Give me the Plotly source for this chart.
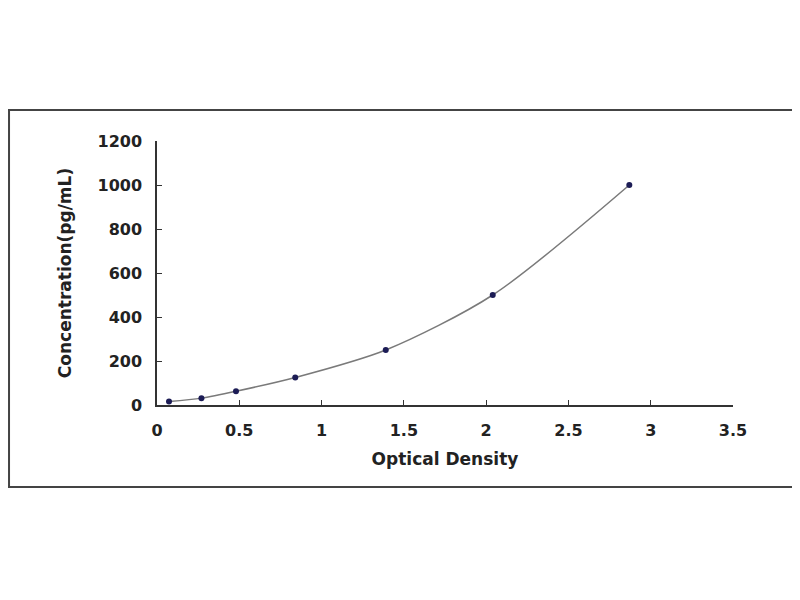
import plotly.graph_objects as go

# standard curve points
optical_density = [0.073, 0.27, 0.48, 0.84, 1.39, 2.04, 2.87]
concentration = [15.6, 31.25, 62.5, 125, 250, 500, 1000]

x_ticks = [0, 0.5, 1, 1.5, 2, 2.5, 3, 3.5]
y_ticks = [0, 200, 400, 600, 800, 1000, 1200]

fig = go.Figure()

fig.add_trace(go.Scatter(
    x=optical_density, y=concentration,
    mode='lines',
    line=dict(color='#7a7a7a', width=1.5, shape='spline', smoothing=0.8),
    hoverinfo='skip',
))
fig.add_trace(go.Scatter(
    x=optical_density, y=concentration,
    mode='markers',
    marker=dict(color='#1c1c55', size=6),
))

tick_font = dict(family='DejaVu Sans', size=16, color='#222222', weight='bold')
title_font = dict(family='DejaVu Sans', size=17, color='#222222', weight='bold')

fig.update_layout(
    width=792, height=584,
    margin=dict(l=149, r=67, t=133, b=187),
    paper_bgcolor='white', plot_bgcolor='white',
    showlegend=False,
    xaxis=dict(
        range=[0, 3.5], tickvals=x_ticks, ticktext=[str(v) for v in x_ticks],
        showgrid=False, zeroline=False, showline=True, linecolor='#333333', linewidth=1.5,
        ticks='inside', ticklen=5, tickcolor='#333333', tickfont=tick_font,
        ticklabelstandoff=10,
        title=dict(text='Optical Density', font=title_font, standoff=14),
    ),
    yaxis=dict(
        range=[0, 1200], tickvals=y_ticks,
        showgrid=False, zeroline=False, showline=True, linecolor='#333333', linewidth=1.5,
        ticks='inside', ticklen=5, tickcolor='#333333', tickfont=tick_font,
        ticklabelstandoff=10,
        title=dict(text='Concentration(pg/mL)', font=title_font, standoff=22),
    ),
)

# outer frame around the whole chart
fig.add_shape(type='rect', xref='paper', yref='paper',
              x0=-0.2569, x1=1.1111, y0=-0.3106, y1=1.117,
              line=dict(color='#444444', width=2))

fig.write_html("out.html")
